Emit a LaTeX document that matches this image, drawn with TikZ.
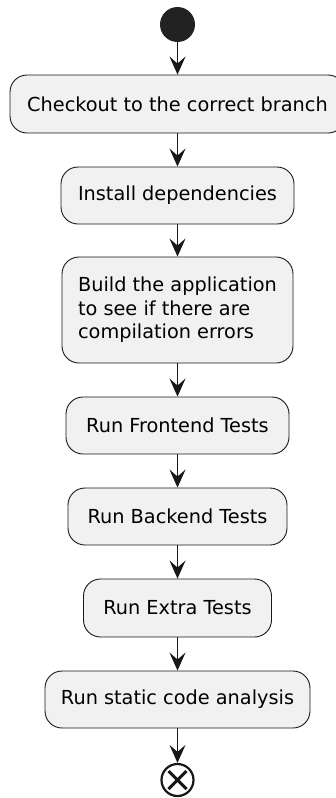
\documentclass[tikz,border=0pt]{standalone}
\usepackage{fontspec}
\setmainfont{DejaVu Sans}
\usetikzlibrary{arrows.meta}
\definecolor{boxfill}{HTML}{F1F1F1}
\definecolor{linec}{HTML}{181818}
\definecolor{startc}{HTML}{222222}
\begin{document}
\begin{tikzpicture}[x=1pt,y=-1pt,
  act/.style={draw=linec,fill=boxfill,line width=0.9pt,rounded corners=17pt,
    inner sep=0pt,text=black,font=\fontsize{19.3}{23.5}\selectfont},
  flow/.style={draw=linec,line width=1.6pt,
    -{Stealth[length=18pt,width=16pt,inset=7pt]}},
]
\useasboundingbox (0,0) rectangle (335,798);
\fill[white] (0,0) rectangle (335,798);
\node[circle,fill=startc,minimum size=35pt,inner sep=0pt] (start) at (177.5,24.5) {};
\node[act,minimum width=335pt,minimum height=58pt] (b1) at (177.5,104) {Checkout to the correct branch};
\node[act,minimum width=233pt,minimum height=57pt] (b2) at (177.5,195.5) {Install dependencies};
\node[act,minimum width=231pt,minimum height=106pt,align=left] (b3) at (177.5,310) {Build the application\\to see if there are\\compilation errors};
\node[act,minimum width=223pt,minimum height=57pt] (b4) at (177.5,425.5) {Run Frontend Tests};
\node[act,minimum width=219pt,minimum height=57pt] (b5) at (177.5,516.5) {Run Backend Tests};
\node[act,minimum width=188pt,minimum height=58pt] (b6) at (177.5,608) {Run Extra Tests};
\node[act,minimum width=265pt,minimum height=57pt] (b7) at (177.5,699.5) {Run static code analysis};
\node[circle,draw=linec,line width=2.2pt,minimum size=32pt,inner sep=0pt] (stop) at (177.5,780) {};
\draw[linec,line width=3pt] (stop.center) ++(-9,-9) -- ++(18,18);
\draw[linec,line width=3pt] (stop.center) ++(9,-9) -- ++(-18,18);
\draw[flow] (start) -- (b1);
\draw[flow] (b1) -- (b2);
\draw[flow] (b2) -- (b3);
\draw[flow] (b3) -- (b4);
\draw[flow] (b4) -- (b5);
\draw[flow] (b5) -- (b6);
\draw[flow] (b6) -- (b7);
\draw[flow] (b7) -- (stop);
\end{tikzpicture}
\end{document}
